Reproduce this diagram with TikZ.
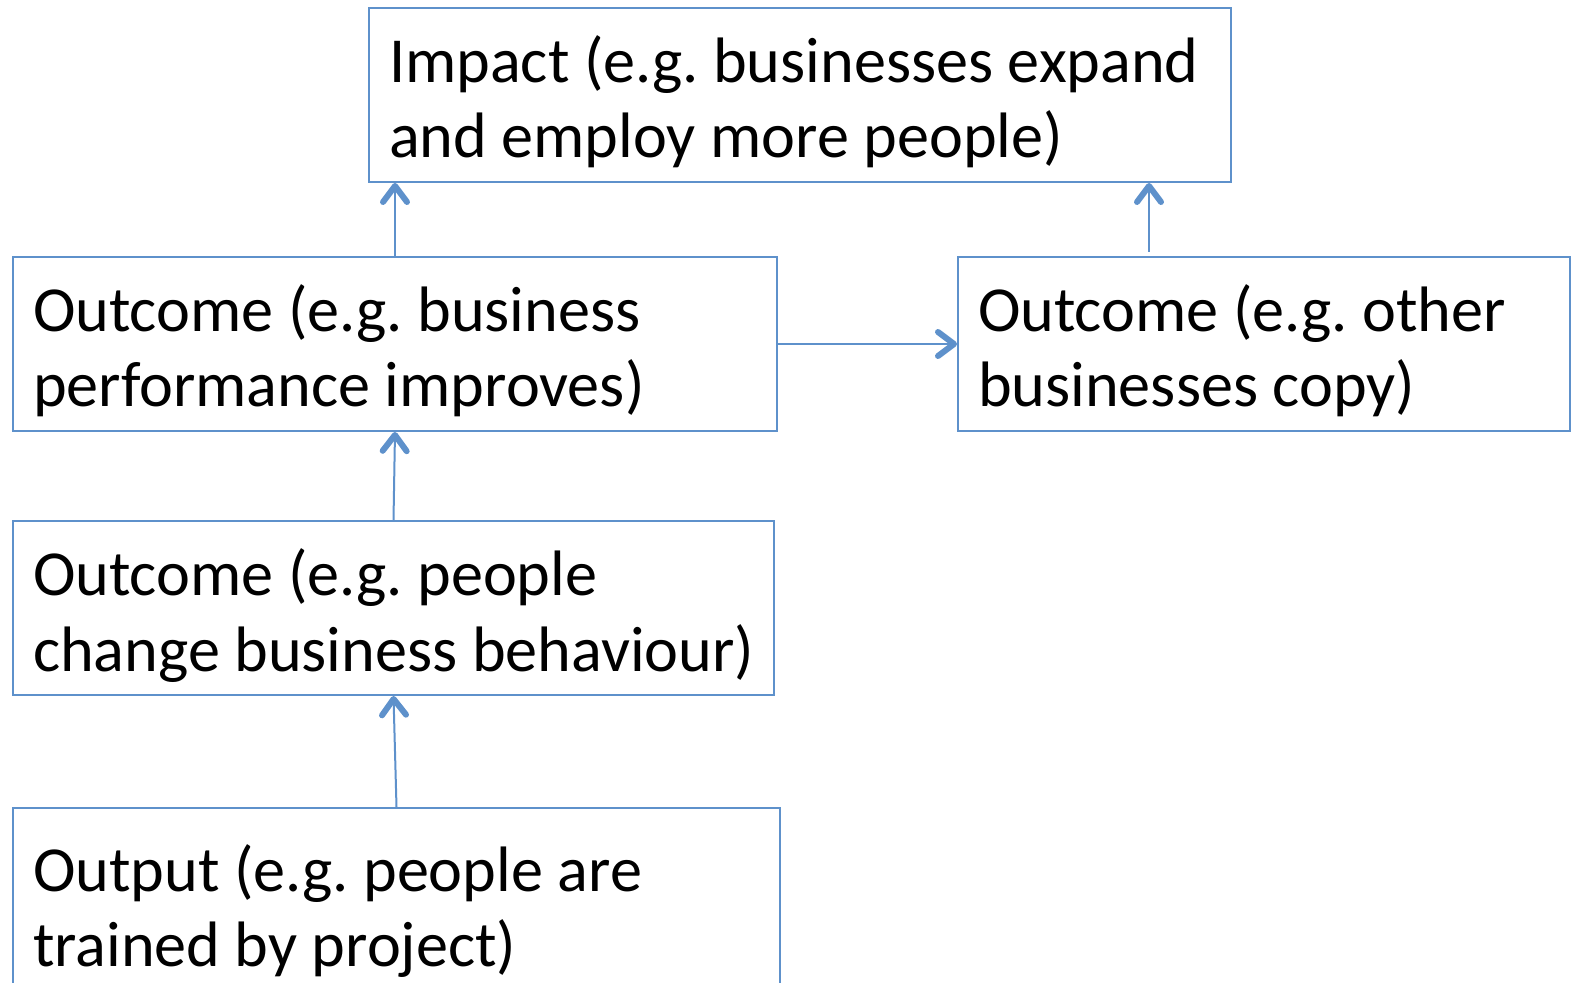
\documentclass[tikz,border=0pt]{standalone}
\usepackage{fontspec}
\setmainfont{Carlito}
\usetikzlibrary{arrows.meta}
\definecolor{boxblue}{RGB}{94,145,203}
\newcommand{\boxfont}{\fontsize{32.1pt}{37.5pt}\selectfont\frenchspacing\hyphenpenalty=10000\relax}

\begin{document}
\begin{tikzpicture}[x=0.5pt,y=-0.5pt,>={Straight Barb[length=8pt,width=12pt,line width=3pt,round]},line width=1pt]
\tikzstyle{block}=[rectangle,draw=boxblue,anchor=north west,align=left,minimum height=87pt,inner xsep=10pt,text height=32pt,text depth=44pt,font=\boxfont,execute at begin node={\spaceskip=.226em\relax}]
\useasboundingbox (0,0) rectangle (1573,983);
\node[block, minimum width=431pt, text width=411pt] (impact) at (368,7) {\mbox{Impact (e.g. businesses expand}\\and employ more people)};
\node[block, minimum width=382pt, text width=362pt] (perform) at (12,256) {Outcome (e.g. business\\performance improves)};
\node[block, minimum width=306pt, text width=286pt] (copy) at (957,256) {Outcome (e.g. other\\businesses copy)};
\node[block, minimum width=380.5pt, text width=360.5pt] (behave) at (12,520) {Outcome (e.g. people\\\mbox{change business behaviour)}};
\node[block, minimum width=383.5pt, text width=363.5pt, minimum height=95pt] (output) at (12,807) {Output (e.g. people are\\trained by project)};
\draw[->,boxblue] (perform.north) -- (perform.north |- impact.south);
\draw[->,boxblue] ([xshift=-57.5pt,yshift=2pt]copy.north) -- ([xshift=-57.5pt]copy.north |- impact.south);
\draw[->,boxblue] (perform.east) -- (copy.west);
\draw[->,boxblue] (behave.north) -- (perform.south);
\draw[->,boxblue] (output.north) -- (behave.south);
\end{tikzpicture}
\end{document}
